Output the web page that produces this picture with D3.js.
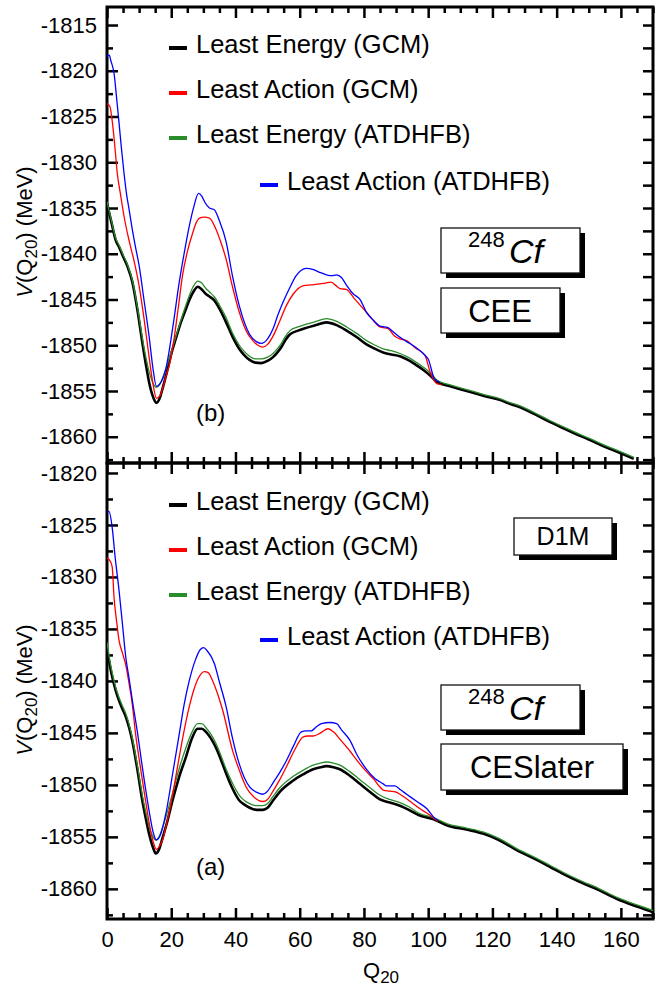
<!DOCTYPE html>
<html><head><meta charset="utf-8">
<script src="https://cdn.jsdelivr.net/npm/d3@7"></script>
<style>body{margin:0;background:#fff} svg{display:block} text{font-family:"Liberation Sans",Arial,sans-serif}</style>
</head><body><svg id="c" width="657" height="987"></svg>
<script>
// ---------- DATA ----------
const seriesNames = ["Least Energy (GCM)", "Least Action (GCM)", "Least Energy (ATDHFB)", "Least Action (ATDHFB)"];
const xTicks = [0, 20, 40, 60, 80, 100, 120, 140, 160];
const yTicksTop = [-1815, -1820, -1825, -1830, -1835, -1840, -1845, -1850, -1855, -1860];
const yTicksBot = [-1820, -1825, -1830, -1835, -1840, -1845, -1850, -1855, -1860];

// Top panel (b): CEE
const topQ_E = [0,1.4,2.7,3.8,5,6.4,7.9,9.5,11,12.2,13.2,14.4,15.4,16.4,17.4,18.6,19.9,21.5,23,24.4,25.7,27,28.3,29.5,30.8,32,33.4,35,37.1,39,41.2,42.8,44.4,46.2,48,50,51.7,53,54.3,55.6,57,59.5,62,65,68.3,71.5,74.6,77.7,80.8,83.5,86,88.5,91.2,93.7,96,98.5,100.6,102.7,106,110,114,118,122.5,124.6,128,133,138,142.3,146,150,155,160,164];
const topV_LE_GCM = [-1834.5,-1836.6,-1838.5,-1839.3,-1840.3,-1841.4,-1843.1,-1846.2,-1849.7,-1852.3,-1854.2,-1855.7,-1856.3,-1855.8,-1854.6,-1853.0,-1851.1,-1849.2,-1847.5,-1846.2,-1845.0,-1844.1,-1843.6,-1843.9,-1844.4,-1844.7,-1845.1,-1846.0,-1847.5,-1849.0,-1850.4,-1851.1,-1851.6,-1851.9,-1851.95,-1851.7,-1851.3,-1850.8,-1850.2,-1849.4,-1848.8,-1848.4,-1848.1,-1847.8,-1847.5,-1847.8,-1848.4,-1849.1,-1849.9,-1850.4,-1850.8,-1851.0,-1851.2,-1851.6,-1852.1,-1852.7,-1853.3,-1854.0,-1854.4,-1854.8,-1855.2,-1855.6,-1856.0,-1856.3,-1856.7,-1857.5,-1858.4,-1859.1,-1859.7,-1860.3,-1861.1,-1861.8,-1862.4];
const topV_LE_AT = [-1834.3,-1836.4,-1838.3,-1839.1,-1840.1,-1841.2,-1842.9,-1845.9,-1849.2,-1851.5,-1853.0,-1854.2,-1854.6,-1854.3,-1853.5,-1852.3,-1850.8,-1849.0,-1847.3,-1845.8,-1844.5,-1843.5,-1843.0,-1843.2,-1843.8,-1844.2,-1844.7,-1845.6,-1847.0,-1848.6,-1850.0,-1850.7,-1851.2,-1851.5,-1851.5,-1851.3,-1850.9,-1850.4,-1849.8,-1849.0,-1848.4,-1848.0,-1847.7,-1847.4,-1847.1,-1847.4,-1848.0,-1848.7,-1849.5,-1850.0,-1850.4,-1850.6,-1850.9,-1851.3,-1851.8,-1852.4,-1853.0,-1853.8,-1854.25,-1854.65,-1855.05,-1855.45,-1855.85,-1856.15,-1856.55,-1857.35,-1858.25,-1858.95,-1859.55,-1860.15,-1860.95,-1861.65,-1862.25];
const topQ_LA_GCM = [0,0.9,1.7,2.5,3.2,4.2,5.3,6.9,8.5,10,11.5,13,14.3,15.4,16.5,17.5,18.5,19.4,21,22.3,23.5,25,26.7,27.8,28.8,30.3,31.9,33.9,35.5,37.1,39,41.2,43.3,45.4,47,48.5,50,51.7,53.5,55.8,58,61,63.5,66.2,68,69.8,71,72.5,74.5,77,79.8,82.5,85,87.6,89.5,91.2,93.3,96,99,100.6,102.7,104];
const topV_LA_GCM = [-1823.6,-1823.9,-1825.7,-1828.5,-1831.2,-1833.5,-1835.9,-1838.6,-1840.9,-1843.5,-1847.0,-1851.0,-1854.2,-1855.8,-1855.5,-1854.5,-1853.2,-1852.2,-1849.0,-1845.6,-1842.4,-1839.8,-1837.7,-1836.6,-1836.1,-1836.0,-1836.1,-1837.3,-1838.8,-1840.6,-1843.5,-1846.4,-1848.4,-1849.5,-1850.0,-1850.2,-1849.9,-1849.0,-1847.6,-1845.7,-1844.4,-1843.5,-1843.4,-1843.3,-1843.2,-1843.1,-1843.4,-1843.8,-1843.9,-1844.9,-1846.0,-1847.1,-1848.0,-1848.2,-1849.0,-1849.3,-1849.5,-1850.3,-1851.1,-1852.9,-1854.2,-1854.3];
const topQ_LA_AT = [0,0.7,1.2,2.2,3,3.75,4.5,5.3,6.1,6.9,7.9,9,10,11.5,13.1,14.3,15.4,16.5,18.3,20.5,22.5,24,25.6,27,28.5,29.5,30.5,31.9,33.4,35,37.1,39,41.2,44.4,46.5,48,50,51.7,53.2,54.8,56.8,58.9,60.5,62,64,66,68.3,70,71.5,73,74.5,76.7,78.8,80.8,83,85,86.5,87.6,89,90.7,93.3,96,99,100,102,103.5];
const topV_LA_AT = [-1818.4,-1818.3,-1818.9,-1820.3,-1823.0,-1825.7,-1828.5,-1831.2,-1833.5,-1835.2,-1837.4,-1839.5,-1841.3,-1845.0,-1849.0,-1852.5,-1854.5,-1854.2,-1852.6,-1848.0,-1843.1,-1840.0,-1837.0,-1834.9,-1833.4,-1833.7,-1834.4,-1835.0,-1835.2,-1836.4,-1838.7,-1842.3,-1845.7,-1848.8,-1849.6,-1849.8,-1849.3,-1848.2,-1846.7,-1845.3,-1843.8,-1842.4,-1841.8,-1841.6,-1841.7,-1842.0,-1842.3,-1842.4,-1842.3,-1842.6,-1843.4,-1844.4,-1845.0,-1846.4,-1847.3,-1847.9,-1848.0,-1848.1,-1848.5,-1849.0,-1849.6,-1850.2,-1851.1,-1851.5,-1853.7,-1854.0];

// Bottom panel (a): CESlater
const botQ_E = [0,1.4,2.7,3.75,4.8,5.8,6.9,7.9,9.5,11,12.2,13.1,14.3,15.2,16.2,17.3,18.8,20.4,22.5,24.6,26.5,28.2,29.5,30.8,32.3,33.9,35.5,37.1,39,41.2,42.8,44.4,46.5,48.5,50,51.7,54,57.9,61,64.2,66.5,68.3,70.5,72.5,75.5,78.75,82,85,88.1,91.2,94,97,101.7,106,112,117.3,122,127.7,133,138,142.3,147,153,159,165,170.6];
const botV_LE_GCM = [-1837.0,-1839.3,-1840.9,-1841.9,-1842.7,-1843.4,-1844.5,-1845.8,-1848.6,-1851.5,-1853.4,-1854.7,-1856.0,-1856.6,-1856.2,-1855.1,-1853.5,-1851.5,-1849.2,-1847.3,-1845.5,-1844.6,-1844.6,-1844.9,-1845.5,-1846.4,-1847.6,-1848.9,-1850.3,-1851.5,-1851.9,-1852.2,-1852.4,-1852.4,-1852.2,-1851.5,-1850.6,-1849.6,-1849.0,-1848.5,-1848.3,-1848.2,-1848.3,-1848.5,-1849.1,-1849.9,-1850.7,-1851.4,-1851.7,-1852.0,-1852.4,-1852.9,-1853.3,-1853.9,-1854.3,-1854.7,-1855.3,-1856.3,-1857.1,-1857.9,-1858.6,-1859.3,-1860.1,-1861.0,-1861.7,-1862.3];
const botV_LE_AT = [-1836.3,-1838.9,-1840.6,-1841.6,-1842.4,-1843.1,-1844.2,-1845.5,-1848.2,-1851.0,-1852.8,-1854.0,-1855.0,-1855.3,-1855.0,-1854.1,-1852.6,-1850.8,-1848.4,-1846.4,-1844.9,-1844.1,-1844.1,-1844.5,-1845.1,-1846.0,-1847.2,-1848.5,-1849.8,-1851.0,-1851.5,-1851.8,-1852.0,-1852.0,-1851.8,-1851.1,-1850.2,-1849.2,-1848.6,-1848.1,-1847.9,-1847.8,-1847.9,-1848.1,-1848.7,-1849.5,-1850.3,-1851.0,-1851.4,-1851.7,-1852.1,-1852.7,-1853.15,-1853.75,-1854.15,-1854.55,-1855.15,-1856.15,-1856.95,-1857.75,-1858.45,-1859.15,-1859.95,-1860.85,-1861.55,-1862.15];
const botQ_LA_GCM = [0,0.6,1.6,2.2,3,3.75,4.8,5.8,6.9,7.9,8.9,10.5,12,13.5,14.5,15.4,16.5,17.3,18.3,20.4,22.5,24,25.6,27,28.5,30.3,31.5,32.9,34.5,36,39.1,41.2,43.3,45.5,48.5,50,51.7,53.8,55.8,58.5,61,62.5,64.2,66.5,68.85,70.5,72.5,75,78.75,81,82.9,85,86,88.1,90,91.2,94,97.5,100,101.7,103];
const botV_LA_GCM = [-1828.2,-1828.3,-1829.0,-1832.0,-1834.3,-1836.1,-1837.3,-1838.4,-1840.3,-1842.3,-1845.1,-1848.5,-1851.5,-1854.3,-1855.6,-1856.2,-1855.8,-1855.3,-1854.1,-1851.0,-1847.3,-1844.8,-1842.5,-1840.9,-1839.7,-1839.1,-1839.2,-1840.0,-1841.3,-1842.8,-1846.7,-1848.6,-1850.2,-1851.1,-1851.6,-1851.4,-1850.6,-1849.5,-1848.3,-1846.6,-1845.4,-1845.3,-1845.3,-1845.0,-1844.6,-1844.9,-1845.6,-1846.5,-1848.0,-1848.8,-1849.4,-1850.2,-1850.5,-1850.6,-1850.7,-1850.9,-1851.5,-1852.3,-1852.8,-1853.2,-1853.5];
const botQ_LA_AT = [0,0.6,1.6,2.5,3.75,4.8,5.8,6.9,7.9,9.5,11,13,14.4,15.4,16.5,18.3,20.4,22.5,24,25.6,27.5,29,30.1,31.2,33.4,35,37.1,39,41.2,44.4,46.5,48.5,50,51.7,53.8,55.8,58,60.5,62,63.6,65.2,66.8,69.4,71.5,73,75.6,78,80.8,83.5,86,87,89.6,91.5,93.3,96.5,99.6,101.7,103];
const botV_LA_AT = [-1823.8,-1823.7,-1825.2,-1828.0,-1831.3,-1834.5,-1837.6,-1839.8,-1841.9,-1845.0,-1848.3,-1852.3,-1854.6,-1855.3,-1854.9,-1852.8,-1849.0,-1845.1,-1842.3,-1840.0,-1838.0,-1837.0,-1836.8,-1837.1,-1838.3,-1840.1,-1842.5,-1845.4,-1848.0,-1850.2,-1850.7,-1850.9,-1850.6,-1849.8,-1848.8,-1847.7,-1846.3,-1844.9,-1844.8,-1844.8,-1844.4,-1844.1,-1844.0,-1844.1,-1844.7,-1845.7,-1847.2,-1848.5,-1849.4,-1849.9,-1850.1,-1850.1,-1850.5,-1850.9,-1851.6,-1852.3,-1853.1,-1853.4];

const colors = ["#000000", "#ff0000", "#2a8c2a", "#0000ff"];

// ---------- LAYOUT ----------
const svg = d3.select("#c");
const X0 = 107, X1 = 653, T0 = 7, MID = 463, B1 = 919;
const x = d3.scaleLinear().domain([0, 170]).range([X0, X1]);
const yTop = d3.scaleLinear().domain([-1862.87, -1813.03]).range([MID, T0]);
const yBot = d3.scaleLinear().domain([-1862.9, -1819.04]).range([B1, MID]);

const xMinor = d3.range(0, 171, 5).filter(d => d % 20 !== 0);
function minorY(y) { const [a, b] = y.domain(); return d3.range(-1862.5, -1810, 5).filter(d => d >= a && d <= b); }
const fmt = d => String(d);

function styleAxis(g, sw) {
  g.select(".domain").remove();
  g.selectAll(".tick line").attr("stroke", "#000").attr("stroke-width", sw);
  g.selectAll(".tick text").attr("fill", "#000").style("font-family", '"Liberation Sans",Arial,sans-serif');
}

function panel(y, top, bottom, yTicks, withXLabels, clipId) {
  svg.append("clipPath").attr("id", clipId).append("rect")
    .attr("x", X0).attr("y", top).attr("width", X1 - X0).attr("height", bottom - top);
  // left
  svg.append("g").attr("transform", `translate(${X0},0)`)
    .call(d3.axisLeft(y).tickValues(minorY(y)).tickSize(-6).tickSizeOuter(0).tickFormat(""))
    .call(g => styleAxis(g, 2.5));
  svg.append("g").attr("transform", `translate(${X0},0)`)
    .call(d3.axisLeft(y).tickValues(yTicks).tickSize(-11).tickSizeOuter(0).tickPadding(10).tickFormat(fmt))
    .call(g => styleAxis(g, 2.5))
    .call(g => g.selectAll(".tick text").attr("font-size", 22));
  // right
  svg.append("g").attr("transform", `translate(${X1},0)`)
    .call(d3.axisRight(y).tickValues(minorY(y).concat(yTicks)).tickSize(-10).tickSizeOuter(0).tickFormat(""))
    .call(g => styleAxis(g, 2.5));
  // top
  svg.append("g").attr("transform", `translate(0,${top})`)
    .call(d3.axisTop(x).tickValues(xMinor).tickSize(-6).tickSizeOuter(0).tickFormat(""))
    .call(g => styleAxis(g, 2.5));
  svg.append("g").attr("transform", `translate(0,${top})`)
    .call(d3.axisTop(x).tickValues(xTicks).tickSize(-11).tickSizeOuter(0).tickFormat(""))
    .call(g => styleAxis(g, 2.5));
  // bottom
  svg.append("g").attr("transform", `translate(0,${bottom})`)
    .call(d3.axisBottom(x).tickValues(xMinor).tickSize(-6).tickSizeOuter(0).tickFormat(""))
    .call(g => styleAxis(g, 2.5));
  svg.append("g").attr("transform", `translate(0,${bottom})`)
    .call(d3.axisBottom(x).tickValues(xTicks).tickSize(-11).tickSizeOuter(0).tickPadding(12)
      .tickFormat(withXLabels ? fmt : ""))
    .call(g => styleAxis(g, 2.5))
    .call(g => g.selectAll(".tick text").attr("font-size", 22));
  // frame
  svg.append("rect").attr("x", X0).attr("y", top).attr("width", X1 - X0).attr("height", bottom - top)
    .attr("fill", "none").attr("stroke", "#000").attr("stroke-width", 3);
}

function curves(y, list, clipId) {
  const line = d3.line().x(d => x(d[0])).y(d => y(d[1])).curve(d3.curveMonotoneX);
  const g = svg.append("g").attr("clip-path", `url(#${clipId})`);
  list.forEach(s => {
    g.append("path").datum(d3.zip(s.q, s.v)).attr("d", line)
      .attr("fill", "none").attr("stroke", s.c).attr("stroke-width", s.w).attr("stroke-linejoin", "round");
  });
}

function legend(rows) {
  rows.forEach(r => {
    svg.append("line").attr("x1", r.lx).attr("x2", r.lx + 18).attr("y1", r.by - 5).attr("y2", r.by - 5)
      .attr("stroke", r.c).attr("stroke-width", 4);
    svg.append("text").attr("x", r.lx + 27).attr("y", r.by).attr("font-size", 25.5).text(r.t);
  });
}

function box(bx, by, w, h) {
  svg.append("rect").attr("x", bx + 5).attr("y", by + 5).attr("width", w).attr("height", h).attr("fill", "#000");
  svg.append("rect").attr("x", bx).attr("y", by).attr("width", w).attr("height", h)
    .attr("fill", "#fff").attr("stroke", "#111").attr("stroke-width", 1.3);
}

function nucleus(bx, by) {
  box(bx, by, 139, 45);
  svg.append("text").attr("x", bx + 27).attr("y", by + 19).attr("font-size", 22).text("248");
  svg.append("text").attr("x", bx + 68).attr("y", by + 35).attr("font-size", 34).attr("font-style", "italic").text("Cf");
}

function ytitle(cy) {
  const t = svg.append("text").attr("transform", `translate(32,${cy}) rotate(-90)`)
    .attr("text-anchor", "middle").attr("font-size", 22);
  t.append("tspan").attr("font-style", "italic").text("V");
  t.append("tspan").text("(Q");
  t.append("tspan").attr("font-size", 17).attr("dy", 5).text("20");
  t.append("tspan").attr("dy", -5).text(") (MeV)");
}

// ---------- TOP PANEL ----------
panel(yTop, T0, MID, yTicksTop, false, "clipTop");
curves(yTop, [
  { q: topQ_E, v: topV_LE_GCM, c: colors[0], w: 2.6 },
  { q: topQ_E, v: topV_LE_AT, c: colors[2], w: 1.3 },
  { q: topQ_LA_GCM, v: topV_LA_GCM, c: colors[1], w: 1.3 },
  { q: topQ_LA_AT, v: topV_LA_AT, c: colors[3], w: 1.3 }
], "clipTop");
legend([
  { lx: 169, by: 53, c: colors[0], t: seriesNames[0] },
  { lx: 169, by: 98, c: colors[1], t: seriesNames[1] },
  { lx: 169, by: 143, c: colors[2], t: seriesNames[2] },
  { lx: 260, by: 190, c: colors[3], t: seriesNames[3] }
]);
nucleus(441, 228);
box(441, 288, 119, 45);
svg.append("text").attr("x", 500).attr("y", 322).attr("text-anchor", "middle").attr("font-size", 31).text("CEE");
svg.append("text").attr("x", 196).attr("y", 421).attr("font-size", 24).text("(b)");
ytitle(232);

// ---------- BOTTOM PANEL ----------
panel(yBot, MID, B1, yTicksBot, true, "clipBot");
curves(yBot, [
  { q: botQ_E, v: botV_LE_GCM, c: colors[0], w: 2.6 },
  { q: botQ_E, v: botV_LE_AT, c: colors[2], w: 1.3 },
  { q: botQ_LA_GCM, v: botV_LA_GCM, c: colors[1], w: 1.3 },
  { q: botQ_LA_AT, v: botV_LA_AT, c: colors[3], w: 1.3 }
], "clipBot");
legend([
  { lx: 169, by: 510, c: colors[0], t: seriesNames[0] },
  { lx: 169, by: 555, c: colors[1], t: seriesNames[1] },
  { lx: 169, by: 600, c: colors[2], t: seriesNames[2] },
  { lx: 260, by: 645, c: colors[3], t: seriesNames[3] }
]);
box(514, 518, 98, 37);
svg.append("text").attr("x", 563).attr("y", 545).attr("text-anchor", "middle").attr("font-size", 25).text("D1M");
nucleus(441, 685);
box(441, 744, 182, 46);
svg.append("text").attr("x", 532).attr("y", 778).attr("text-anchor", "middle").attr("font-size", 31).text("CESlater");
svg.append("text").attr("x", 196).attr("y", 875).attr("font-size", 24).text("(a)");
ytitle(690);

// x title
const xt = svg.append("text").attr("x", 363).attr("y", 978).attr("font-size", 22);
xt.append("tspan").text("Q");
xt.append("tspan").attr("font-size", 17).attr("dy", 5).text("20");
</script></body></html>
